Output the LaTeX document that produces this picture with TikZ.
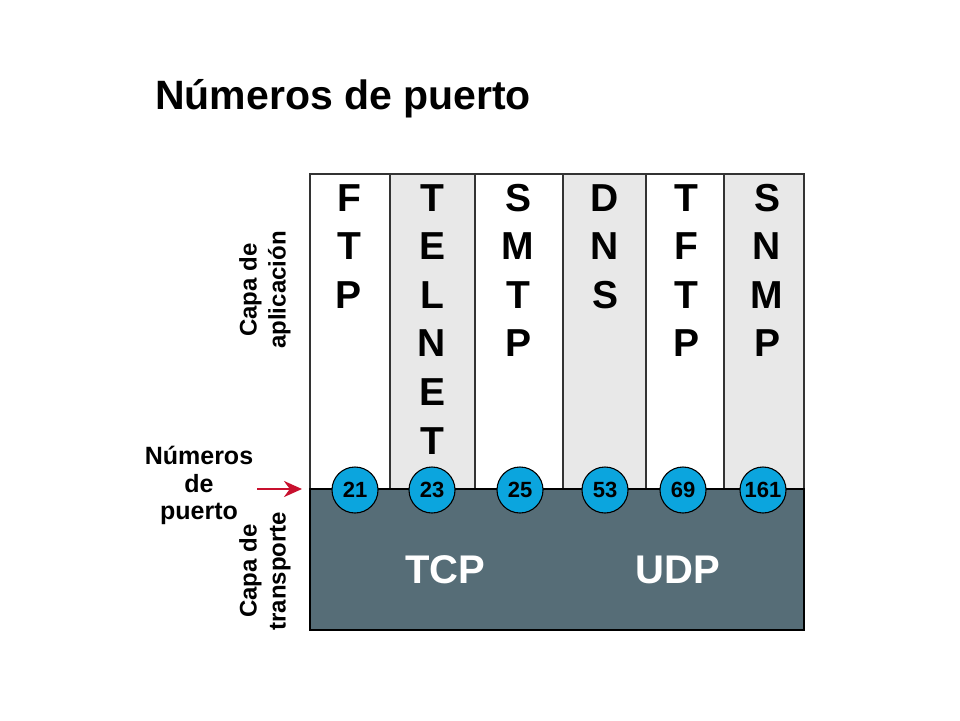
\documentclass[tikz,border=0pt]{standalone}
\usepackage{fontspec}
\setmainfont{Liberation Sans}
\usetikzlibrary{arrows.meta}
\definecolor{colgray}{HTML}{E8E8E8}
\definecolor{transp}{HTML}{566D77}
\definecolor{portblue}{HTML}{0BA5DE}
\definecolor{arrowred}{HTML}{C8102E}
\definecolor{edgegray}{HTML}{333333}
\begin{document}
\begin{tikzpicture}[x=1pt,y=-1pt,
  colbox/.style={draw=edgegray, line width=1.3pt, inner sep=0pt, outer sep=0pt, minimum height=315pt, anchor=north west},
  letter/.style={font=\fontsize{39}{46}\selectfont\bfseries, anchor=base, inner sep=0pt},
  port/.style={circle, draw=black, line width=1.1pt, fill=portblue, minimum size=46pt, inner sep=0pt, font=\fontsize{22}{24}\selectfont\bfseries},
  sidelabel/.style={font=\fontsize{24}{29}\selectfont\bfseries, align=center, inner sep=0pt},
  proto/.style={font=\fontsize{40}{46}\selectfont\bfseries, text=white, inner sep=0pt}]
\useasboundingbox (0,0) rectangle (960,720);
\fill[white] (0,0) rectangle (960,720);

\node[anchor=base west, inner sep=0pt, font=\fontsize{41}{46}\selectfont\bfseries] (title) at (155,109) {Números de puerto};

\node[colbox, fill=white, minimum width=80pt] (c1) at (310,174) {};
\node[colbox, fill=colgray, minimum width=85pt] (c2) at (390,174) {};
\node[colbox, fill=white, minimum width=88pt] (c3) at (475,174) {};
\node[colbox, fill=colgray, minimum width=83pt] (c4) at (563,174) {};
\node[colbox, fill=white, minimum width=78pt] (c5) at (646,174) {};
\node[colbox, fill=colgray, minimum width=80pt] (c6) at (724,174) {};

\node[draw=black, line width=1.6pt, fill=transp, inner sep=0pt, outer sep=0pt, minimum width=494pt, minimum height=141pt, anchor=north west] (trans) at (310,489) {};

\foreach \l [count=\i from 0] in {F,T,P} \node[letter] (ftp\i) at (349,211+48.6*\i) {\l};
\foreach \l [count=\i from 0] in {T,E,L,N,E,T} \node[letter] (tel\i) at (432,211+48.6*\i) {\l};
\foreach \l [count=\i from 0] in {S,M,T,P} \node[letter] (smtp\i) at (518,211+48.6*\i) {\l};
\foreach \l [count=\i from 0] in {D,N,S} \node[letter] (dns\i) at (605,211+48.6*\i) {\l};
\foreach \l [count=\i from 0] in {T,F,T,P} \node[letter] (tftp\i) at (686,211+48.6*\i) {\l};
\foreach \l [count=\i from 0] in {S,N,M,P} \node[letter] (snmp\i) at (767,211+48.6*\i) {\l};

\node[port] (p21) at (355,490) {21};
\node[port] (p23) at (432,490) {23};
\node[port] (p25) at (520,490) {25};
\node[port] (p53) at (605,490) {53};
\node[port] (p69) at (683,490) {69};
\node[port] (p161) at (763,490) {161};

\node[proto] (tcp) at (445,570) {TCP};
\node[proto] (udp) at (678,570) {UDP};

\node[sidelabel, rotate=90] (app) at (265,290) {Capa de\\aplicación};
\node[sidelabel, rotate=90] (tra) at (265,571) {Capa de\\transporte};
\node[sidelabel, font=\fontsize{25}{27.5}\selectfont\bfseries, anchor=north] (nums) at (199,446) {Números\\de\\puerto};

\coordinate (arrtail) at (257,489);
\coordinate (arrhead) at (302,489);
\draw[arrowred, line width=2.8pt, -{Stealth[length=18pt,width=16pt]}] (arrtail) -- (arrhead);
\end{tikzpicture}
\end{document}
